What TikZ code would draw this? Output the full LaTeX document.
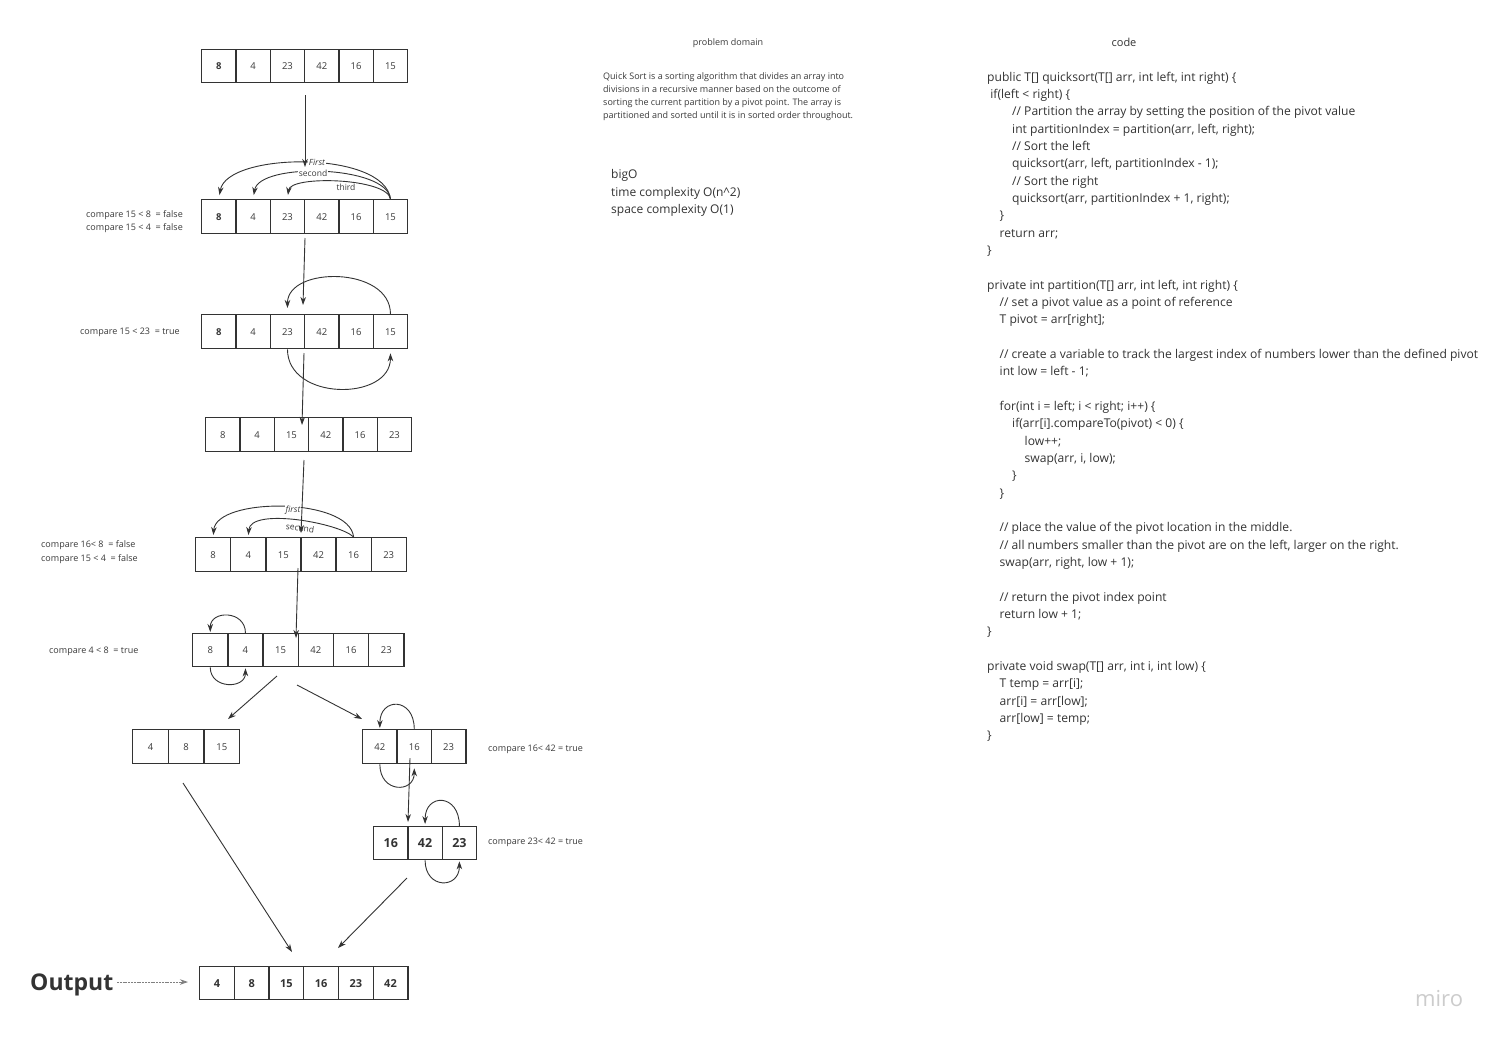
\documentclass[tikz,border=0pt]{standalone}
\usepackage{fontspec}
\setmainfont{Open Sans}
\usetikzlibrary{arrows.meta}
\definecolor{ink}{HTML}{333333}
\definecolor{txt}{HTML}{3A3A3A}
\definecolor{wm}{HTML}{CCCCCC}
\newcommand{\cellrow}[7]{%
  \foreach \v [count=\k] in {#7} {
    \node[cellbox, #6, minimum width=#4pt, minimum height=#5pt, anchor=north west] (#1\k) at ({#2+(\k-1)*#4}, #3) {\v};
  }%
}
\newcommand{\codeln}[3]{\node[codetxt] (code#1) at ({987+#2*12.5}, {81+(#1-1)*17.34}) {#3};}
\tikzset{
  cellbox/.style={draw=ink, line width=1.3pt, inner sep=0pt, text=txt, font=\fontsize{9.5}{11}\selectfont},
  bigbold/.style={font=\fontsize{12.5}{14}\selectfont\bfseries, text=ink},
  outbold/.style={font=\fontsize{11}{13}\selectfont\bfseries, text=ink},
  conn/.style={draw=ink, line width=0.9pt, -{Stealth[length=8pt,width=5.5pt]}},
  lbl/.style={text=txt, font=\fontsize{9}{11}\selectfont, inner sep=0pt, anchor=base west},
  curvelbl/.style={text=txt, font=\fontsize{8.5}{10}\selectfont, fill=white, inner sep=0.8pt},
  codetxt/.style={text=ink, font=\fontsize{12.1}{14}\selectfont, inner sep=0pt, anchor=base west},
  paratxt/.style={text=txt, font=\fontsize{9}{11}\selectfont, inner sep=0pt, anchor=base west},
  bigotxt/.style={text=ink, font=\fontsize{12}{14}\selectfont, inner sep=0pt, anchor=base west},
}
\begin{document}
\begin{tikzpicture}[x=1pt,y=-1pt]
\fill[white] (0,0) rectangle (1498,1042);
\useasboundingbox (0,0) rectangle (1498,1042);

% arrays
\cellrow{ra}{201}{49}{34.33}{33}{}{\textbf{8},4,23,42,16,15}
\cellrow{rb}{201}{199}{34.33}{34}{}{\textbf{8},4,23,42,16,15}
\cellrow{rc}{201}{314}{34.33}{34}{}{\textbf{8},4,23,42,16,15}
\cellrow{rd}{205}{417}{34.33}{34}{}{8,4,15,42,16,23}
\cellrow{re}{195}{537}{35.1}{34}{}{8,4,15,42,16,23}
\cellrow{rf}{192}{633}{35.2}{33}{}{8,4,15,42,16,23}
\cellrow{rg}{132}{729}{35.7}{34}{}{4,8,15}
\cellrow{rh}{362}{729}{34.4}{34}{}{42,16,23}
\cellrow{ri}{373}{826}{34.3}{33}{bigbold}{16,42,23}
\cellrow{ro}{199}{966}{34.7}{33}{outbold}{4,8,15,16,23,42}

% curved swaps, row b
\draw[conn, shorten >=4pt] (rb6.north) .. controls +(-6,-49) and +(8,-47) .. (rb1.north);
\draw[conn, shorten >=4pt] (rb6.north) .. controls +(-3,-34) and +(6,-37) .. (rb2.north);
\draw[conn, shorten >=4pt] (rb6.north) .. controls +(-3,-21) and +(3,-24) .. (rb3.north);
\node[curvelbl, font=\fontsize{8.5}{10}\selectfont\itshape] (lfirstA) at (317,162) {First};
\node[curvelbl] (lsecondA) at (313,173) {second};
\node[curvelbl] (lthirdA) at (346,187) {third};

% row c
\draw[conn, shorten >=6pt] (rc6.north) .. controls +(0,-48) and +(0,-48) .. (rc3.north);
\draw[conn, shorten >=4pt] (rc3.south) .. controls +(0,52) and +(0,52) .. (rc6.south);

% row e
\draw[conn, shorten >=2pt] (re5.north) .. controls +(-4,-40) and +(3,-40) .. (re1.north);
\draw[conn, shorten >=2pt] (re5.north) .. controls +(-14,-14) and +(2,-30) .. (re2.north);
\node[curvelbl, font=\fontsize{8.5}{10}\selectfont\itshape] (lfirstB) at (293,510) {first};
\node[curvelbl, rotate=-7] (lsecondB) at (300,528) {second};

% row f
\draw[conn, shorten >=1pt] (rf2.north) .. controls +(0,-23) and +(0,-23) .. (rf1.north);
\draw[conn, shorten >=1pt] (rf1.south) .. controls +(0,22) and +(0,22) .. (rf2.south);

% row h
\draw[conn, shorten >=1pt] (rh2.north) .. controls +(0,-32) and +(0,-32) .. (rh1.north);
\draw[conn, shorten >=4pt] (rh1.south) .. controls +(0,29) and +(0,29) .. (rh2.south);

% row i
\draw[conn, shorten >=2pt] (ri3.north) .. controls +(0,-33) and +(0,-33) .. (ri2.north);
\draw[conn, shorten >=1pt] (ri2.south) .. controls +(0,29) and +(0,29) .. (ri3.south);

% straight connectors
\coordinate (v1a) at (305,95);  \coordinate (v1b) at (305,167);
\coordinate (v2a) at (305,238); \coordinate (v2b) at (303,305);
\coordinate (v3a) at (304,353); \coordinate (v3b) at (302,425);
\coordinate (v4a) at (304,460); \coordinate (v4b) at (301,533);
\coordinate (v5a) at (298,568); \coordinate (v5b) at (296,638);
\coordinate (v6a) at (277,676); \coordinate (v6b) at (228,719);
\coordinate (v7a) at (297,685); \coordinate (v7b) at (362,719);
\coordinate (v8a) at (410,758); \coordinate (v8b) at (408,822);
\coordinate (v9a) at (183,783); \coordinate (v9b) at (292,952);
\coordinate (v10a) at (407,878); \coordinate (v10b) at (338,948);
\foreach \s in {1,...,10} { \draw[conn] (v\s a) -- (v\s b); }

% Output
\node[inner sep=0pt, anchor=base west, text=ink, font=\fontsize{23}{27}\selectfont\bfseries] (outlbl) at (30,990) {Output};
\coordinate (outa) at (117,982);
\draw[conn, draw=gray, line width=0.8pt, dash pattern=on 2pt off 0.8pt, shorten >=11pt] (outa) -- (outa -| ro1.west);

% compare labels
\node[lbl, anchor=base east] (cmpA) at (183,217) {compare 15 < 8\ \ = false};
\node[lbl, anchor=base east] (cmpB) at (183,230) {compare 15 < 4\ \ = false};
\node[lbl] (cmpC) at (80,334) {compare 15 < 23\ \ = true};
\node[lbl] (cmpD) at (41,547) {compare 16< 8\ \ = false};
\node[lbl] (cmpE) at (41,561) {compare 15 < 4\ \ = false};
\node[lbl] (cmpF) at (49,653) {compare 4 < 8\ \ = true};
\node[lbl] (cmpG) at (488,751) {compare 16< 42 = true};
\node[lbl] (cmpH) at (488,844) {compare 23< 42 = true};

% problem domain
\node[paratxt, anchor=base] (pdtitle) at (728,45) {problem domain};
\node[paratxt] (pd1) at (603,79) {Quick Sort is a sorting algorithm that divides an array into};
\node[paratxt] (pd2) at (603,92) {divisions in a recursive manner based on the outcome of};
\node[paratxt] (pd3) at (603,105) {sorting the current partition by a pivot point. The array is};
\node[paratxt] (pd4) at (603,118) {partitioned and sorted until it is in sorted order throughout.};

\node[bigotxt] (bo1) at (611,178) {bigO};
\node[bigotxt] (bo2) at (611,196) {time complexity O(n\textasciicircum 2)};
\node[bigotxt] (bo3) at (611,213) {space complexity O(1)};

% code
\node[codetxt, font=\fontsize{11}{13}\selectfont, anchor=base] (codetitle) at (1124,46) {code};
\codeln{1}{0}{public T[] quicksort(T[] arr, int left, int right) \{}
\codeln{2}{0.25}{if(left < right) \{}
\codeln{3}{2}{// Partition the array by setting the position of the pivot value}
\codeln{4}{2}{int partitionIndex = partition(arr, left, right);}
\codeln{5}{2}{// Sort the left}
\codeln{6}{2}{quicksort(arr, left, partitionIndex - 1);}
\codeln{7}{2}{// Sort the right}
\codeln{8}{2}{quicksort(arr, partitionIndex + 1, right);}
\codeln{9}{1}{\}}
\codeln{10}{1}{return arr;}
\codeln{11}{0}{\}}
\codeln{13}{0}{private int partition(T[] arr, int left, int right) \{}
\codeln{14}{1}{// set a pivot value as a point of reference}
\codeln{15}{1}{T pivot = arr[right];}
\codeln{17}{1}{// create a variable to track the largest index of numbers lower than the defined pivot}
\codeln{18}{1}{int low = left - 1;}
\codeln{20}{1}{for(int i = left; i < right; i++) \{}
\codeln{21}{2}{if(arr[i].compareTo(pivot) < 0) \{}
\codeln{22}{3}{low++;}
\codeln{23}{3}{swap(arr, i, low);}
\codeln{24}{2}{\}}
\codeln{25}{1}{\}}
\codeln{27}{1}{// place the value of the pivot location in the middle.}
\codeln{28}{1}{// all numbers smaller than the pivot are on the left, larger on the right.}
\codeln{29}{1}{swap(arr, right, low + 1);}
\codeln{31}{1}{// return the pivot index point}
\codeln{32}{1}{return low + 1;}
\codeln{33}{0}{\}}
\codeln{35}{0}{private void swap(T[] arr, int i, int low) \{}
\codeln{36}{1}{T temp = arr[i];}
\codeln{37}{1}{arr[i] = arr[low];}
\codeln{38}{1}{arr[low] = temp;}
\codeln{39}{0}{\}}

% watermark
\node[inner sep=0pt, anchor=base west, text=wm, font=\fontsize{22}{26}\selectfont] (miro) at (1415,1006) {miro};
\end{tikzpicture}
\end{document}
